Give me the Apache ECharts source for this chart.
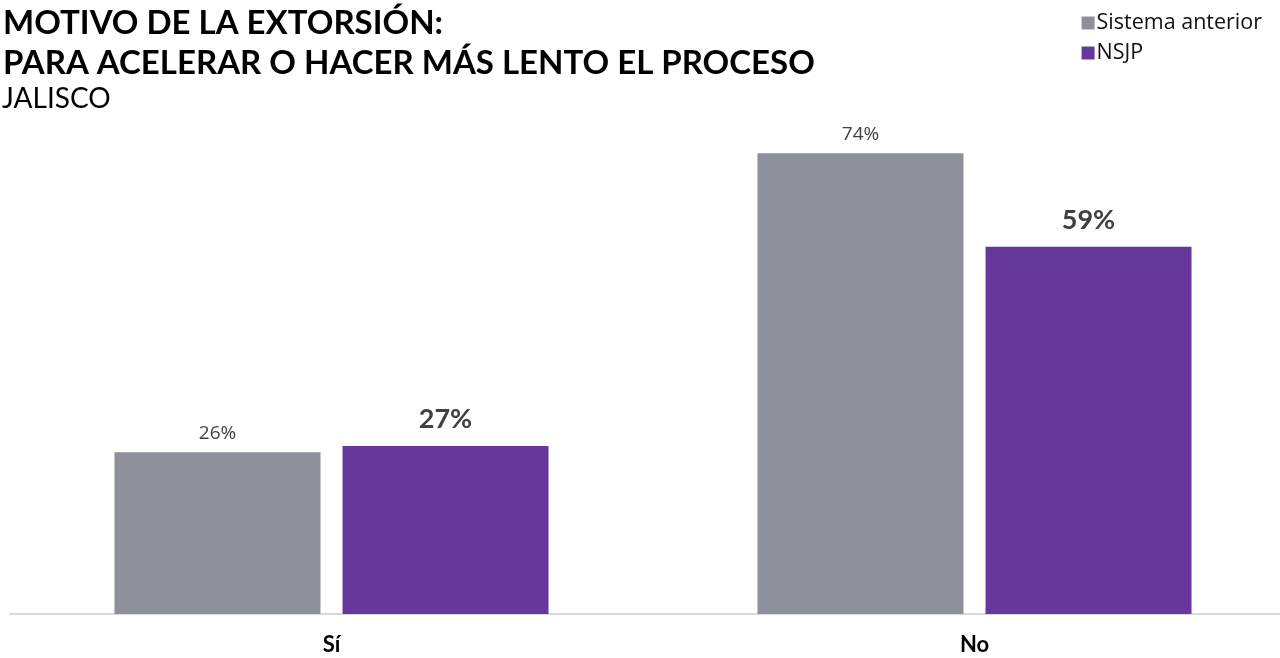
<!DOCTYPE html>
<html>
<head>
<meta charset="utf-8">
<script src="https://cdn.jsdelivr.net/npm/echarts@6/dist/echarts.min.js"></script>
<style>
  html, body { margin: 0; padding: 0; background: #fff; }
  #chart { width: 1280px; height: 658px; }
</style>
</head>
<body>
<div id="chart"></div>
<script>
// datos
const categories = ['Sí', 'No'];
const seriesNames = ['Sistema anterior', 'NSJP'];
const anterior = [26, 74];
const nsjp = [27, 59];

const myChart = echarts.init(document.getElementById('chart'));

let option = {
  animation: false,
  title: [
    {
      text: 'MOTIVO DE LA EXTORSIÓN:\nPARA ACELERAR O HACER MÁS LENTO EL PROCESO',
      left: -2,
      top: -2,
      textStyle: {
        fontFamily: 'Lato',
        fontWeight: 'bold',
        fontSize: 33,
        lineHeight: 40,
        color: '#000'
      }
    },
    {
      text: 'JALISCO',
      left: -3,
      top: 80,
      textStyle: {
        fontFamily: 'Lato',
        fontWeight: 'normal',
        fontSize: 28,
        color: '#000'
      }
    }
  ],
  legend: {
    orient: 'vertical',
    right: 13,
    top: 7,
    itemWidth: 13,
    itemHeight: 13,
    itemGap: 8,
    icon: 'rect',
    textStyle: {
      fontFamily: 'Open Sans',
      fontSize: 21.5,
      color: '#111',
      padding: [0, 0, 0, -3]
    },
    data: seriesNames
  },
  grid: {
    left: 10,
    top: 116,
    width: 1286,
    height: 498,
    containLabel: false,
    outerBoundsMode: 'none'
  },
  xAxis: {
    type: 'category',
    data: categories,
    axisLine: { lineStyle: { color: '#d9d9d9', width: 2 } },
    axisTick: { show: false },
    axisLabel: {
      margin: 20,
      fontFamily: 'Lato',
      fontWeight: 'bold',
      fontSize: 22,
      color: '#000'
    }
  },
  yAxis: {
    type: 'value',
    min: 0,
    max: 80,
    show: false,
    splitLine: { show: false }
  },
  series: [
    {
      name: seriesNames[0],
      type: 'bar',
      data: anterior,
      barWidth: 206,
      barGap: '10.7%',
      itemStyle: { color: '#8e919c' },
      label: {
        show: true,
        position: 'top',
        distance: 9,
        formatter: '{c}%',
        fontFamily: 'Open Sans',
        fontSize: 19,
        color: '#404040'
      }
    },
    {
      name: seriesNames[1],
      type: 'bar',
      data: nsjp,
      barWidth: 206,
      itemStyle: { color: '#67389c' },
      label: {
        show: true,
        position: 'top',
        distance: 13,
        formatter: '{c}%',
        fontFamily: 'Lato',
        fontWeight: 'bold',
        fontSize: 27,
        color: '#404040'
      }
    }
  ]
};

myChart.setOption(option);
</script>
</body>
</html>
